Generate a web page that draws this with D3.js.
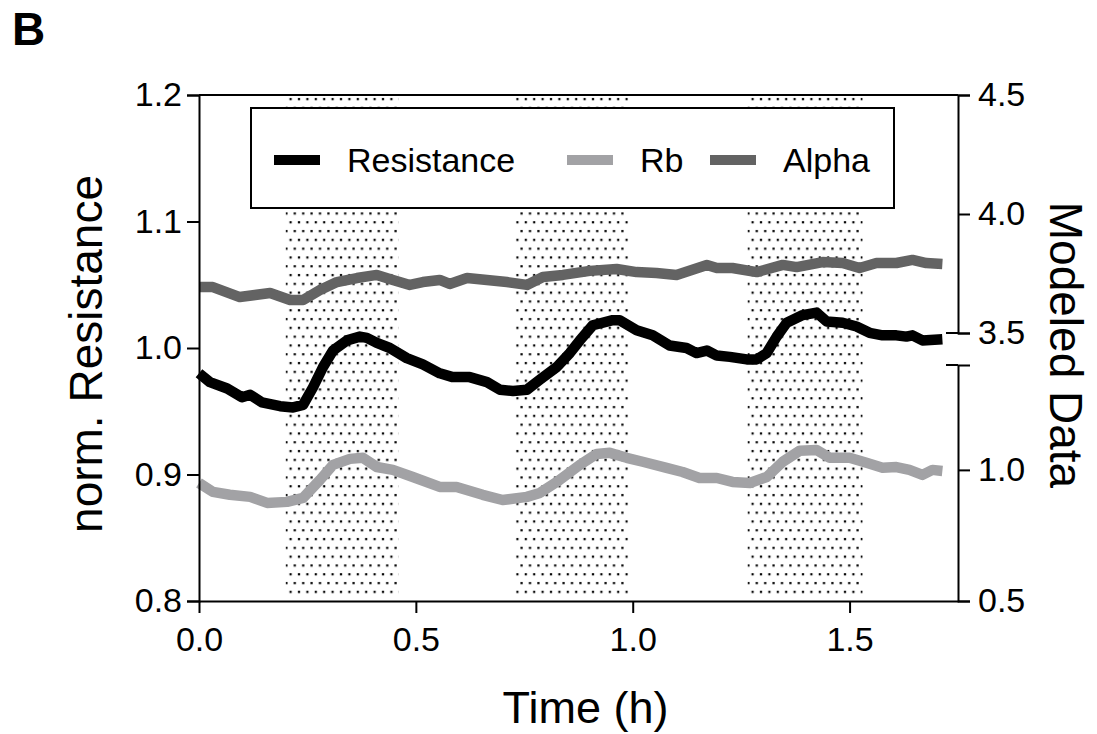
<!DOCTYPE html>
<html>
<head>
<meta charset="utf-8">
<script src="https://cdn.jsdelivr.net/npm/d3@7"></script>
<style>
	body { margin: 0; background: #fff; }
	text { font-family: 'Liberation Sans', Arial, Helvetica, sans-serif; fill: #000; }
</style>
</head>
<body>
<div id="draw"></div>
<script>
// time axis (h) and tick labels
const timeTicks = [0, 0.5, 1.0, 1.5];
const resTicks = [0.8, 0.9, 1.0, 1.1, 1.2];
const alphaTicks = [3.5, 4.0, 4.5];
const rbTicks = [0.5, 1.0];

// stimulation windows (h)
const windowStart = [0.2, 0.73, 1.265];
const windowEnd = [0.46, 0.99, 1.53];

// norm. Resistance (left axis)
const resTime = [0, 0.025, 0.065, 0.099, 0.118, 0.145, 0.187, 0.217, 0.240, 0.263, 0.286, 0.309, 0.341, 0.371, 0.387, 0.410, 0.440, 0.479, 0.516, 0.555, 0.585, 0.624, 0.664, 0.694, 0.724, 0.756, 0.786, 0.825, 0.855, 0.878, 0.908, 0.954, 0.970, 1.009, 1.046, 1.085, 1.124, 1.147, 1.171, 1.194, 1.224, 1.263, 1.286, 1.309, 1.332, 1.355, 1.392, 1.424, 1.447, 1.484, 1.516, 1.546, 1.576, 1.608, 1.631, 1.645, 1.668, 1.714];
const resValues = [0.980, 0.973, 0.968, 0.961, 0.963, 0.957, 0.954, 0.953, 0.955, 0.969, 0.985, 0.998, 1.006, 1.009, 1.008, 1.004, 1.000, 0.992, 0.987, 0.980, 0.977, 0.977, 0.973, 0.967, 0.966, 0.967, 0.975, 0.985, 0.996, 1.006, 1.018, 1.022, 1.022, 1.014, 1.010, 1.002, 1.000, 0.996, 0.998, 0.994, 0.993, 0.991, 0.991, 0.996, 1.009, 1.020, 1.026, 1.028, 1.021, 1.020, 1.017, 1.012, 1.010, 1.010, 1.009, 1.010, 1.006, 1.007];

// Rb (right axis, lower part)
const rbTime = [0, 0.032, 0.071, 0.118, 0.157, 0.203, 0.240, 0.279, 0.309, 0.348, 0.378, 0.410, 0.447, 0.493, 0.555, 0.594, 0.654, 0.700, 0.756, 0.786, 0.825, 0.878, 0.917, 0.947, 0.986, 1.023, 1.078, 1.115, 1.154, 1.194, 1.230, 1.270, 1.309, 1.346, 1.385, 1.424, 1.454, 1.500, 1.539, 1.576, 1.608, 1.638, 1.668, 1.691, 1.714];
const rbValues = [0.950, 0.916, 0.905, 0.897, 0.874, 0.878, 0.893, 0.962, 1.019, 1.042, 1.046, 1.011, 1.000, 0.973, 0.935, 0.935, 0.905, 0.885, 0.897, 0.912, 0.954, 1.019, 1.061, 1.065, 1.046, 1.031, 1.008, 0.992, 0.969, 0.969, 0.954, 0.950, 0.973, 1.031, 1.073, 1.076, 1.046, 1.046, 1.027, 1.008, 1.011, 1.000, 0.981, 1.000, 0.996];

// Alpha (right axis, upper part)
const alphaTime = [0, 0.032, 0.094, 0.164, 0.210, 0.240, 0.279, 0.318, 0.364, 0.410, 0.447, 0.486, 0.516, 0.555, 0.578, 0.618, 0.664, 0.710, 0.756, 0.793, 0.839, 0.901, 0.963, 1.009, 1.055, 1.101, 1.171, 1.194, 1.230, 1.286, 1.346, 1.378, 1.438, 1.484, 1.523, 1.562, 1.608, 1.645, 1.677, 1.714];
const alphaValues = [3.693, 3.693, 3.651, 3.668, 3.639, 3.639, 3.681, 3.714, 3.731, 3.744, 3.723, 3.702, 3.714, 3.723, 3.706, 3.731, 3.723, 3.714, 3.702, 3.735, 3.744, 3.761, 3.769, 3.756, 3.752, 3.744, 3.786, 3.773, 3.773, 3.756, 3.786, 3.777, 3.798, 3.794, 3.773, 3.794, 3.794, 3.807, 3.794, 3.790];

const seriesNames = ['Resistance', 'Rb', 'Alpha'];
const seriesColors = ['#000000', '#a2a2a5', '#636363'];

// set the dimensions and margins of the graph
var margin = { top: 95, right: 139, bottom: 133, left: 199 },
	width = 1097 - margin.left - margin.right,
	height = 734 - margin.top - margin.bottom;

var root = d3
	.select('#draw')
	.append('svg')
	.attr('width', 1097)
	.attr('height', 734);

var svg = root
	.append('g')
	.attr('transform', 'translate(' + margin.left + ',' + margin.top + ')');

// scales; the right axis is broken in two parts
var x = d3.scaleLinear().domain([0, 1.75]).range([0, width]);
var yRes = d3.scaleLinear().domain([0.8, 1.2]).range([height, 0]);
var yAlpha = d3.scaleLinear().domain([3.5, 4.5]).range([238, 0]);
var yRb = d3.scaleLinear().domain([0.5, 1.4]).range([height, 270]);

// dotted pattern for the stimulation windows
var pat = root
	.append('defs')
	.append('pattern')
	.attr('id', 'dots')
	.attr('patternUnits', 'userSpaceOnUse')
	.attr('x', 86)
	.attr('width', 8.4)
	.attr('height', 17.6);
pat.append('rect').attr('x', 4.5).attr('y', 3).attr('width', 2.2).attr('height', 2.2).attr('fill', '#000');
pat.append('rect').attr('x', 0.3).attr('y', 11.8).attr('width', 2.2).attr('height', 2.2).attr('fill', '#000');

svg
	.selectAll('.window')
	.data(windowStart)
	.enter()
	.append('rect')
	.attr('class', 'window')
	.attr('x', function (d) {
		return x(d);
	})
	.attr('y', 2)
	.attr('width', function (d, i) {
		return x(windowEnd[i]) - x(d);
	})
	.attr('height', height - 4)
	.attr('fill', 'url(#dots)');

// the lines
function makeLine(times, values, scale) {
	return d3
		.line()
		.x(function (d, i) {
			return x(times[i]);
		})
		.y(function (d) {
			return scale(d);
		})(values);
}

var lines = [
	makeLine(rbTime, rbValues, yRb),
	makeLine(alphaTime, alphaValues, yAlpha),
	makeLine(resTime, resValues, yRes),
];
var lineColors = [seriesColors[1], seriesColors[2], seriesColors[0]];

svg
	.selectAll('.series')
	.data(lines)
	.enter()
	.append('path')
	.attr('class', 'series')
	.attr('d', function (d) {
		return d;
	})
	.attr('fill', 'none')
	.attr('stroke', function (d, i) {
		return lineColors[i];
	})
	.attr('stroke-width', 10.5)
	.attr('stroke-linejoin', 'round')
	.attr('stroke-linecap', 'butt');

// axes
function styleAxis(g) {
	g.selectAll('path, line').attr('stroke', '#000').attr('stroke-width', 2);
	g.selectAll('text').attr('font-size', 34).attr('fill', '#000');
	g.attr('font-family', null);
}

svg
	.append('g')
	.attr('transform', 'translate(0,' + height + ')')
	.call(
		d3
			.axisBottom(x)
			.tickValues(timeTicks)
			.tickFormat(d3.format('.1f'))
			.tickSize(12)
			.tickSizeOuter(0)
			.tickPadding(14)
	)
	.call(styleAxis);

svg
	.append('g')
	.call(
		d3
			.axisLeft(yRes)
			.tickValues(resTicks)
			.tickFormat(d3.format('.1f'))
			.tickSize(12)
			.tickPadding(5)
	)
	.call(styleAxis);

svg
	.append('g')
	.attr('transform', 'translate(' + width + ',0)')
	.call(
		d3
			.axisRight(yAlpha)
			.tickValues(alphaTicks)
			.tickFormat(d3.format('.1f'))
			.tickSize(12)
			.tickPadding(8)
	)
	.call(styleAxis);

svg
	.append('g')
	.attr('transform', 'translate(' + width + ',0)')
	.call(
		d3
			.axisRight(yRb)
			.tickValues(rbTicks)
			.tickFormat(d3.format('.1f'))
			.tickSize(12)
			.tickPadding(8)
	)
	.call(styleAxis);

// break caps on the left side of the right axis
svg
	.selectAll('.cap')
	.data([yAlpha(3.5), yRb(1.4)])
	.enter()
	.append('line')
	.attr('class', 'cap')
	.attr('x1', width - 12)
	.attr('x2', width)
	.attr('y1', function (d) {
		return d;
	})
	.attr('y2', function (d) {
		return d;
	})
	.attr('stroke', '#000')
	.attr('stroke-width', 2);

// top frame line
svg
	.append('line')
	.attr('x1', 0)
	.attr('x2', width)
	.attr('y1', 0)
	.attr('y2', 0)
	.attr('stroke', '#000')
	.attr('stroke-width', 2);

// legend
var legend = svg.append('g').attr('transform', 'translate(52,13)');
legend
	.append('rect')
	.attr('width', 643)
	.attr('height', 100)
	.attr('fill', '#fff')
	.attr('stroke', '#000')
	.attr('stroke-width', 2);

var legendX = [23, 316, 459];
var item = legend
	.selectAll('.item')
	.data(seriesNames)
	.enter()
	.append('g')
	.attr('class', 'item')
	.attr('transform', function (d, i) {
		return 'translate(' + legendX[i] + ',52)';
	});
item
	.append('rect')
	.attr('y', -5)
	.attr('width', 46)
	.attr('height', 10)
	.attr('fill', function (d, i) {
		return seriesColors[i];
	});
item
	.append('text')
	.attr('x', 73)
	.attr('y', 12)
	.attr('font-size', 34)
	.text(function (d) {
		return d;
	});

// axis titles
svg
	.append('text')
	.attr('transform', 'translate(-97,' + (height / 2 + 6) + ') rotate(-90)')
	.attr('text-anchor', 'middle')
	.attr('font-size', 46)
	.text('norm. Resistance');

svg
	.append('text')
	.attr('transform', 'translate(' + (width + 92) + ',' + (height / 2 - 3) + ') rotate(90)')
	.attr('text-anchor', 'middle')
	.attr('font-size', 46)
	.text('Modeled Data');

svg
	.append('text')
	.attr('x', width / 2 + 7)
	.attr('y', height + 122)
	.attr('text-anchor', 'middle')
	.attr('font-size', 45)
	.text('Time (h)');

// panel letter
root
	.append('text')
	.attr('x', 12)
	.attr('y', 45)
	.attr('font-size', 46)
	.attr('font-weight', 'bold')
	.text('B');
</script>
</body>
</html>
